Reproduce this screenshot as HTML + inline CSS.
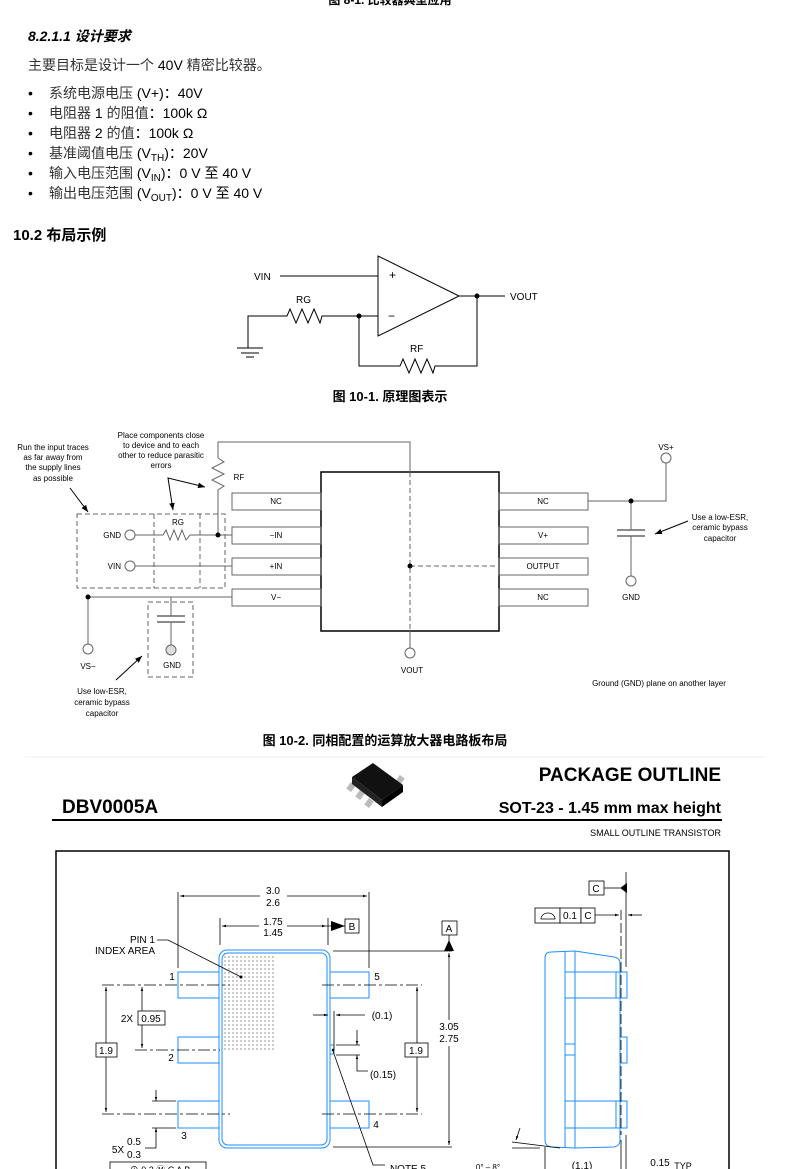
<!DOCTYPE html>
<html><head><meta charset="utf-8"><style>
html,body{margin:0;padding:0;background:#fff;}
svg{display:block;}
text{font-family:"Liberation Sans","Noto Sans CJK SC",sans-serif;fill:#000;}
.cj{fill:#333;}
</style></head><body>
<svg width="790" height="1169" viewBox="0 0 790 1169" xmlns="http://www.w3.org/2000/svg">
<defs>
<marker id="ar" viewBox="0 0 10 10" refX="10" refY="5" markerWidth="7" markerHeight="7" orient="auto-start-reverse"><path d="M0,1 L10,5 L0,9 z" fill="#000"/></marker>
<marker id="as" viewBox="0 0 10 10" refX="10" refY="5" markerWidth="5" markerHeight="5" orient="auto-start-reverse"><path d="M0,2 L10,5 L0,8 z" fill="#000"/></marker>
</defs>

<text x="390" y="4" font-size="12" font-weight="bold" text-anchor="middle">图 8-1. 比较器典型应用</text>
<text x="28" y="41" font-size="14" font-weight="bold" font-style="italic">8.2.1.1 设计要求</text>
<text x="28" y="70" font-size="14" class="cj">主要目标是设计一个 <tspan fill="#000">40V</tspan> 精密比较器。</text>
<g font-size="14">
<text x="28" y="98">•</text><text x="49" y="98"><tspan class="cj">系统电源电压</tspan> (V+)：40V</text>
<text x="28" y="118">•</text><text x="49" y="118"><tspan class="cj">电阻器</tspan> 1 <tspan class="cj">的阻值</tspan>：100k Ω</text>
<text x="28" y="138">•</text><text x="49" y="138"><tspan class="cj">电阻器</tspan> 2 <tspan class="cj">的值</tspan>：100k Ω</text>
<text x="28" y="158">•</text><text x="49" y="158"><tspan class="cj">基准阈值电压</tspan> (V<tspan font-size="10" dy="3">TH</tspan><tspan dy="-3">)：20V</tspan></text>
<text x="28" y="178">•</text><text x="49" y="178"><tspan class="cj">输入电压范围</tspan> (V<tspan font-size="10" dy="3">IN</tspan><tspan dy="-3">)：0 V 至 40 V</tspan></text>
<text x="28" y="198">•</text><text x="49" y="198"><tspan class="cj">输出电压范围</tspan> (V<tspan font-size="10" dy="3">OUT</tspan><tspan dy="-3">)：0 V 至 40 V</tspan></text>
</g>
<text x="13" y="240" font-size="15" font-weight="bold">10.2 布局示例</text>

<g stroke="#000" stroke-width="1" fill="none">
<line x1="280" y1="276" x2="378" y2="276"/>
<polygon points="378,256 378,336 459,296"/>
<line x1="459" y1="296" x2="505" y2="296"/>
<polyline points="237,348 248,348 248,316 287,316 290,309 296,323 302,309 308,323 314,309 320,323 322,316 378,316"/>
<line x1="237" y1="348" x2="263" y2="348"/><line x1="241" y1="353" x2="259" y2="353"/><line x1="246" y1="357" x2="254" y2="357"/>
<polyline points="359,316 359,366 400,366 403,359 409,373 415,359 421,373 427,359 433,373 435,366 477,366 477,296"/>
</g>
<circle cx="477" cy="296" r="2.5"/><circle cx="359" cy="316" r="2.5"/>
<g font-size="10"><text x="254" y="280">VIN</text><text x="510" y="300">VOUT</text><text x="296" y="303">RG</text><text x="410" y="352">RF</text></g>
<text x="389" y="279" font-size="12">+</text><text x="388" y="320" font-size="12">−</text>
<text x="390" y="401" font-size="13" font-weight="bold" text-anchor="middle">图 10-1. 原理图表示</text>

<g stroke="#666" stroke-width="1" fill="none">
<rect x="321" y="472" width="178" height="159" stroke="#000" stroke-width="1.5"/>
<rect x="232" y="493" width="89" height="17"/><rect x="232" y="527" width="89" height="17"/>
<rect x="232" y="558" width="89" height="17"/><rect x="232" y="589" width="89" height="17"/>
<rect x="499" y="493" width="89" height="17"/><rect x="499" y="527" width="89" height="17"/>
<rect x="499" y="558" width="89" height="17"/><rect x="499" y="589" width="89" height="17"/>
<polyline points="410,472 410,442 218,442 218,458"/>
<polyline points="218,458 224,462 212,468 224,474 212,480 224,486 218,490 218,535"/>
<line x1="410" y1="472" x2="410" y2="631" stroke-dasharray="5,3"/>
<line x1="410" y1="566" x2="499" y2="566" stroke-dasharray="5,3"/>
<line x1="410" y1="631" x2="410" y2="648"/>
<circle cx="410" cy="653" r="5"/>
<g stroke-dasharray="5,3">
<rect x="77" y="514" width="148" height="74"/>
<line x1="154" y1="514" x2="154" y2="588"/><line x1="200" y1="514" x2="200" y2="588"/>
<rect x="148" y="602" width="45" height="75"/>
</g>
<circle cx="130" cy="535" r="5"/><circle cx="130" cy="566" r="5"/>
<polyline points="135,535 163,535 166,530 170,540 174,530 178,540 182,530 186,540 190,535 232,535"/>
<line x1="135" y1="566" x2="232" y2="566"/>
<line x1="88" y1="597" x2="232" y2="597"/>
<line x1="88" y1="597" x2="88" y2="644"/><circle cx="88" cy="649" r="5"/>
<polyline points="171,597 171,616"/><line x1="157" y1="616" x2="185" y2="616" stroke-width="1.5"/><line x1="157" y1="622" x2="185" y2="622" stroke-width="1.5"/>
<line x1="171" y1="622" x2="171" y2="645"/><circle cx="171" cy="650" r="5" fill="#ddd"/>
<polyline points="588,501 666,501 666,463"/><circle cx="666" cy="458" r="5"/>
<line x1="631" y1="501" x2="631" y2="530"/><line x1="617" y1="530" x2="645" y2="530" stroke-width="1.5"/><line x1="617" y1="536" x2="645" y2="536" stroke-width="1.5"/>
<line x1="631" y1="536" x2="631" y2="576"/><circle cx="631" cy="581" r="5"/>
</g>
<circle cx="218" cy="535" r="2.5"/><circle cx="88" cy="597" r="2.5"/><circle cx="410" cy="566" r="2.5"/><circle cx="631" cy="501" r="2.5"/>
<g stroke="#000" stroke-width="1" fill="none">
<line x1="70" y1="488" x2="88" y2="512" marker-end="url(#ar)"/>
<polyline points="205,487 168,478 173,510" marker-end="url(#ar)" marker-start="url(#ar)"/>
<line x1="116" y1="680" x2="142" y2="656" marker-end="url(#ar)"/>
<line x1="688" y1="521" x2="655" y2="534" marker-end="url(#ar)"/>
</g>
<g font-size="8" text-anchor="middle">
<text x="276" y="504">NC</text><text x="276" y="538">−IN</text><text x="276" y="569">+IN</text><text x="276" y="600">V−</text>
<text x="543" y="504">NC</text><text x="543" y="538">V+</text><text x="543" y="569">OUTPUT</text><text x="543" y="600">NC</text>
<text x="121" y="538" text-anchor="end">GND</text><text x="121" y="569" text-anchor="end">VIN</text>
<text x="178" y="525">RG</text><text x="239" y="480">RF</text>
<text x="88" y="669">VS−</text><text x="172" y="668">GND</text><text x="412" y="673">VOUT</text>
<text x="666" y="450">VS+</text><text x="631" y="600">GND</text>
<text x="53" y="450">Run the input traces</text><text x="53" y="460">as far away from</text><text x="53" y="470">the supply lines</text><text x="53" y="481">as possible</text>
<text x="161" y="438">Place components close</text><text x="161" y="448">to device and to each</text><text x="161" y="458">other to reduce parasitic</text><text x="161" y="468">errors</text>
<text x="102" y="694">Use low-ESR,</text><text x="102" y="705">ceramic bypass</text><text x="102" y="716">capacitor</text>
<text x="720" y="520">Use a low-ESR,</text><text x="720" y="530">ceramic bypass</text><text x="720" y="541">capacitor</text>
<text x="659" y="686">Ground (GND) plane on another layer</text>
</g>
<text x="385" y="745" font-size="13" font-weight="bold" text-anchor="middle">图 10-2. 同相配置的运算放大器电路板布局</text>
<line x1="25" y1="757" x2="765" y2="757" stroke="#eee"/>

<g fill="#bbb">
<rect x="348" y="783" width="6" height="8" transform="rotate(35 351 787)"/>
<rect x="357" y="791" width="6" height="8" transform="rotate(35 360 795)"/>
<rect x="366" y="799" width="6" height="8" transform="rotate(35 369 803)"/>
<rect x="397" y="776" width="6" height="7" transform="rotate(35 400 780)"/>
</g>
<polygon points="352,777 373,763 403,785 382,800" fill="#111"/>
<polygon points="382,800 403,785 403,792 382,807" fill="#000"/>
<polygon points="352,777 382,800 382,807 352,784" fill="#222"/>
<text x="721" y="781" font-size="19" font-weight="bold" text-anchor="end">PACKAGE OUTLINE</text>
<text x="62" y="813" font-size="19" font-weight="bold">DBV0005A</text>
<text x="721" y="813" font-size="16" font-weight="bold" text-anchor="end">SOT-23 - 1.45 mm max height</text>
<line x1="52" y1="820" x2="722" y2="820" stroke="#000" stroke-width="2"/>
<text x="721" y="836" font-size="9" text-anchor="end">SMALL OUTLINE TRANSISTOR</text>
<rect x="56" y="851" width="673" height="330" fill="none" stroke="#000" stroke-width="1.5"/>

<defs><pattern id="dots" width="4" height="4" patternUnits="userSpaceOnUse"><circle cx="1" cy="1" r="0.55" fill="#000"/></pattern></defs>
<rect x="222" y="953" width="53" height="97" fill="url(#dots)"/>
<g stroke="#1e8fff" fill="none" stroke-width="1">
<rect x="219" y="950" width="111" height="198" rx="8"/>
<rect x="222" y="953" width="105" height="192" rx="6"/>
<rect x="178" y="972" width="41" height="26"/><rect x="178" y="1037" width="41" height="26"/><rect x="178" y="1101" width="41" height="27"/>
<rect x="330" y="972" width="39" height="26"/><rect x="330" y="1101" width="39" height="27"/>
<rect x="330" y="1045" width="4" height="9"/>
</g>
<g stroke="#000" stroke-width="0.8" fill="none">
<g stroke-dasharray="12,3,3,3">
<line x1="102" y1="985" x2="230" y2="985"/><line x1="322" y1="985" x2="422" y2="985"/>
<line x1="135" y1="1050" x2="220" y2="1050"/>
<line x1="102" y1="1114" x2="230" y2="1114"/><line x1="322" y1="1114" x2="422" y2="1114"/>
</g>
<line x1="178" y1="892" x2="178" y2="968"/><line x1="369" y1="892" x2="369" y2="968"/>
<line x1="180" y1="896" x2="260" y2="896" marker-start="url(#as)"/><line x1="287" y1="896" x2="367" y2="896" marker-end="url(#as)"/>
<line x1="220" y1="918" x2="220" y2="945"/><line x1="328" y1="918" x2="328" y2="945"/>
<line x1="222" y1="926" x2="259" y2="926" marker-start="url(#as)"/><line x1="287" y1="926" x2="326" y2="926" marker-end="url(#as)"/>
<line x1="326" y1="926" x2="345" y2="926"/>
<line x1="333" y1="951" x2="452" y2="951"/><line x1="333" y1="1147" x2="452" y2="1147"/>
<line x1="449" y1="1020" x2="449" y2="953" marker-end="url(#as)"/><line x1="449" y1="1046" x2="449" y2="1145" marker-end="url(#as)"/>
<line x1="449" y1="935" x2="449" y2="951"/>
<line x1="106" y1="1043" x2="106" y2="987" marker-end="url(#as)"/><line x1="106" y1="1057" x2="106" y2="1112" marker-end="url(#as)"/>
<line x1="142" y1="1011" x2="142" y2="987" marker-end="url(#as)"/><line x1="142" y1="1025" x2="142" y2="1048" marker-end="url(#as)"/>
<line x1="417" y1="1043" x2="417" y2="987" marker-end="url(#as)"/><line x1="417" y1="1057" x2="417" y2="1112" marker-end="url(#as)"/>
<line x1="152" y1="1101" x2="176" y2="1101"/><line x1="152" y1="1128" x2="176" y2="1128"/>
<line x1="156" y1="1090" x2="156" y2="1101" marker-end="url(#as)"/><line x1="156" y1="1148" x2="156" y2="1128" marker-end="url(#as)"/>
<polyline points="156,1148 145,1148"/>
<line x1="313" y1="1015" x2="328" y2="1015" marker-end="url(#as)"/>
<line x1="334" y1="1011" x2="334" y2="1050"/>
<line x1="365" y1="1015" x2="336" y2="1015" marker-end="url(#as)"/>
<line x1="336" y1="1045" x2="360" y2="1045"/><line x1="336" y1="1055" x2="360" y2="1055"/>
<line x1="357" y1="1030" x2="357" y2="1045" marker-end="url(#as)"/><polyline points="357,1055 357,1071 368,1071" marker-start="url(#as)"/>
<polyline points="333,1051 373,1165 385,1165"/>
<polyline points="157,940 168,940 241,977"/>
</g>
<circle cx="241" cy="977" r="1.5"/><circle cx="333" cy="1050" r="1.3"/>
<polygon points="331,921 345,926 331,931" fill="#000"/>
<polygon points="444,951 449,940 454,951" fill="#000"/>
<g fill="#fff" stroke="#000" stroke-width="0.8">
<rect x="345" y="919" width="14" height="14"/><rect x="442" y="921" width="15" height="14"/>
<rect x="96" y="1043" width="21" height="14"/><rect x="138" y="1011" width="27" height="14"/><rect x="405" y="1043" width="23" height="14"/>
<rect x="110" y="1162" width="96" height="14"/>
</g>
<g font-size="10" text-anchor="middle">
<text x="273" y="894">3.0</text><text x="273" y="906">2.6</text>
<text x="273" y="925">1.75</text><text x="273" y="936">1.45</text>
<text x="352" y="930">B</text><text x="449" y="932">A</text>
<text x="449" y="1030">3.05</text><text x="449" y="1042">2.75</text>
<text x="106" y="1054">1.9</text><text x="151" y="1022">0.95</text><text x="416" y="1054">1.9</text>
<text x="127" y="1022">2X</text>
<text x="134" y="1145">0.5</text><text x="134" y="1158">0.3</text><text x="118" y="1153">5X</text>
<text x="172" y="980">1</text><text x="171" y="1061">2</text><text x="184" y="1139">3</text><text x="377" y="980">5</text><text x="376" y="1128">4</text>
<text x="382" y="1019">(0.1)</text><text x="383" y="1078">(0.15)</text>
<text x="155" y="943" text-anchor="end">PIN 1</text><text x="155" y="954" text-anchor="end">INDEX AREA</text>
<text x="408" y="1172">NOTE 5</text>
<text x="160" y="1173" font-size="9">⊕ 0.2 Ⓜ C A B</text>
</g>

<g stroke="#1e8fff" fill="none" stroke-width="1">
<path d="M551,952 L575,951 L614,957 Q620,958 620,964 L620,1140 Q620,1146 614,1147 L575,1148 L551,1147 Q545,1146 545,1140 L545,958 Q545,952 551,952 Z"/>
<line x1="565" y1="951" x2="565" y2="1148"/><line x1="575" y1="951" x2="575" y2="1148"/>
<rect x="565" y="972" width="51" height="26"/><rect x="616" y="972" width="11" height="26"/>
<rect x="620" y="1037" width="7" height="26"/>
<rect x="565" y="1101" width="51" height="27"/><rect x="616" y="1101" width="11" height="27"/>
<rect x="565" y="1044" width="10" height="11"/>
</g>
<g stroke="#000" stroke-width="0.8" fill="none">
<line x1="626" y1="872" x2="626" y2="967"/>
<line x1="604" y1="888" x2="620" y2="888"/>
<line x1="621" y1="910" x2="621" y2="1135" stroke-dasharray="10,3"/>
<line x1="595" y1="915" x2="619" y2="915" marker-end="url(#as)"/>
<line x1="642" y1="915" x2="628" y2="915" marker-end="url(#as)"/>
<line x1="626" y1="1135" x2="626" y2="1169"/><line x1="621" y1="1140" x2="621" y2="1169"/>
<line x1="545" y1="1147" x2="545" y2="1169"/>
<line x1="512" y1="1142" x2="560" y2="1148"/><line x1="512" y1="1148" x2="540" y2="1148"/>
<line x1="520" y1="1128" x2="516" y2="1140" marker-end="url(#as)"/>
</g>
<polygon points="620,888 627,883 627,893" fill="#000"/>
<g fill="#fff" stroke="#000" stroke-width="0.8">
<rect x="589" y="881" width="15" height="14"/>
<rect x="535" y="908" width="25" height="15"/><rect x="560" y="908" width="21" height="15"/><rect x="581" y="908" width="14" height="15"/>
</g>
<path d="M541,919 A7,6 0 0 1 555,919 Z" fill="none" stroke="#000" stroke-width="0.8"/>
<g font-size="10" text-anchor="middle">
<text x="596" y="892">C</text><text x="570" y="919">0.1</text><text x="588" y="919">C</text>
<text x="582" y="1169">(1.1)</text><text x="660" y="1166">0.15</text><text x="683" y="1169" font-size="9">TYP</text>
<text x="488" y="1170" font-size="8">0° – 8°</text>
</g>
</svg>
</body></html>
